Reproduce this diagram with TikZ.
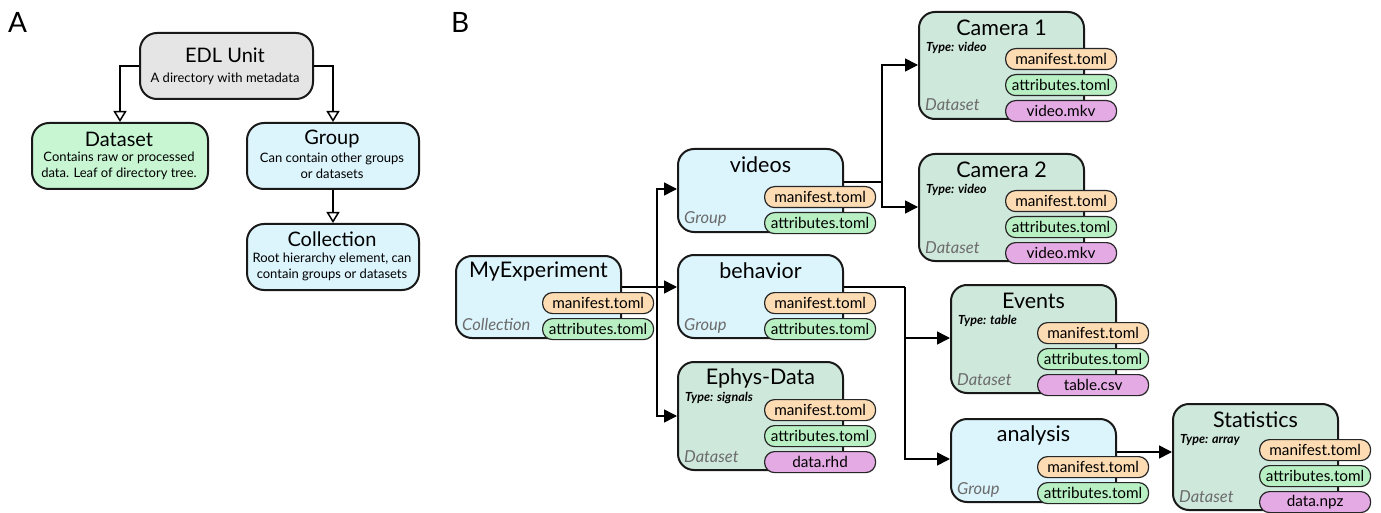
\documentclass[tikz,border=0pt]{standalone}
\usepackage{fontspec}
\setmainfont{Lato}
\usetikzlibrary{arrows.meta,calc}
\definecolor{grpC}{HTML}{DCF4FC}
\definecolor{dsC}{HTML}{CFE8DC}
\definecolor{dsA}{HTML}{C8F5D2}
\definecolor{edlC}{HTML}{E5E5E5}
\definecolor{manC}{HTML}{FDDCB4}
\definecolor{attC}{HTML}{B9F0C3}
\definecolor{datC}{HTML}{E4AAE4}
\tikzset{
 box/.style={draw=black!90, line width=2pt, rounded corners=16pt, minimum width=165pt, inner sep=0pt, anchor=north west},
 boxA/.style={draw=black!90, line width=2pt, rounded corners=17pt, inner sep=0pt, anchor=north west},
 pill/.style={draw=black!85, line width=1.2pt, rounded corners=10pt, minimum width=111pt, minimum height=21pt, inner sep=0pt, anchor=north west, font=\fontsize{15.3}{16}\selectfont},
 ttl/.style={font=\fontsize{21.5}{24}\selectfont, inner sep=0pt},
 ttlA/.style={font=\fontsize{20}{23}\selectfont, inner sep=0pt},
 typ/.style={font=\fontsize{12.5}{14}\selectfont\bfseries\itshape, inner sep=0pt, anchor=west},
 kind/.style={font=\fontsize{16.5}{18}\selectfont\itshape, text=black!58, inner sep=0pt, anchor=base west},
 desc/.style={font=\fontsize{13}{15.5}\selectfont, align=center, inner sep=0pt},
 lbl/.style={font=\fontsize{28}{30}\selectfont, anchor=base west, inner sep=0pt},
 arr/.style={line width=1.5pt, -{Triangle[length=13pt,width=13pt]}},
 ln/.style={line width=1.5pt},
 oarr/.style={line width=1.5pt, -{Triangle[open,length=11pt,width=13pt,fill=white]}},
}
\newcommand\ubox[7]{%
 \node[box, fill=#5, minimum height=#4pt] (#1) at (#2,#3) {};
 \node[ttl] (#1-t) at ([yshift=-17pt]#1.north) {#6};
 \node[kind] (#1-k) at ([xshift=7pt,yshift=9pt]#1.south west) {#7};}
\newcommand\utype[2]{%
 \node[typ] (#1-y) at ([xshift=8pt,yshift=-37pt]#1.north west) {#2};}
\newcommand\gpills[1]{%
 \node[pill, fill=manC] (#1-m) at ([xshift=-80pt,yshift=47pt]#1.south east) {manifest.toml};
 \node[pill, fill=attC] (#1-a) at ([xshift=-80pt,yshift=21pt]#1.south east) {attributes.toml};}
\newcommand\dpills[2]{%
 \node[pill, fill=manC] (#1-m) at ([xshift=-80pt,yshift=72pt]#1.south east) {manifest.toml};
 \node[pill, fill=attC] (#1-a) at ([xshift=-80pt,yshift=46pt]#1.south east) {attributes.toml};
 \node[pill, fill=datC] (#1-f) at ([xshift=-80pt,yshift=20pt]#1.south east) {#2};}
\begin{document}
\begin{tikzpicture}[x=1pt,y=-1pt]
\useasboundingbox[fill=white] (0,0) rectangle (1381,513);
% ---------- Panel A ----------
\node[lbl] (labA) at (8,33) {A};
\node[boxA, fill=edlC, minimum width=173pt, minimum height=66pt] (edl) at (139,32) {};
\node[ttlA] (edl-t) at (225,55) {EDL Unit};
\node[desc] (edl-d) at (225,79) {A directory with metadata};
\node[boxA, fill=dsA, minimum width=176pt, minimum height=66pt] (dset) at (31,122) {};
\node[ttlA] (dset-t) at (119,139) {Dataset};
\node[desc] (dset-d) at (119,166) {Contains raw or processed\\data. Leaf of directory tree.};
\node[boxA, fill=grpC, minimum width=172pt, minimum height=66pt] (grp) at (246,122) {};
\node[ttlA] (grp-t) at (332,139) {Group};
\node[desc] (grp-d) at (332,166) {Can contain other groups\\or datasets};
\node[boxA, fill=grpC, minimum width=172pt, minimum height=66pt] (coll) at (246,223) {};
\node[ttlA] (coll-t) at (332,239) {Collection};
\node[desc] (coll-d) at (332,267) {Root hierarchy element, can\\contain groups or datasets};
\draw[oarr] (edl.west) -| (dset.north);
\draw[oarr] (edl.east) -| (grp.north);
\draw[oarr] (grp.south) -- (coll.north);
% ---------- Panel B ----------
\node[lbl] (labB) at (451,33) {B};
\coordinate (jB) at (657,287);
\coordinate (yV) at (0,189);
\coordinate (yE) at (0,416);
\coordinate (jV) at (882,182);
\coordinate (yC1) at (0,65);
\coordinate (yC2) at (0,207);
\coordinate (jH) at (905,287);
\coordinate (yEv) at (0,338);
\coordinate (yAn) at (0,459);
\coordinate (yS) at (0,452);

\ubox{myexp}{455}{255}{82}{grpC}{MyExperiment}{Collection}
\ubox{videos}{677}{148}{83}{grpC}{videos}{Group}
\ubox{behav}{677}{254}{83}{grpC}{behavior}{Group}
\ubox{ephys}{677}{361}{108}{dsC}{Ephys-Data}{Dataset}
\ubox{cam1}{918}{11}{107}{dsC}{Camera 1}{Dataset}
\ubox{cam2}{918}{153}{107}{dsC}{Camera 2}{Dataset}
\ubox{events}{950}{284}{108}{dsC}{Events}{Dataset}
\ubox{anal}{950}{418}{83}{grpC}{analysis}{Group}
\ubox{stats}{1172}{403}{106}{dsC}{Statistics}{Dataset}
\utype{ephys}{Type: signals}
\utype{cam1}{Type: video}
\utype{cam2}{Type: video}
\utype{events}{Type: table}
\utype{stats}{Type: array}

\draw[arr] (myexp.east |- jB) -- (behav.west |- jB);
\draw[arr] (jB) |- (videos.west |- yV);
\draw[arr] (jB) |- (ephys.west |- yE);
\draw[ln] (videos.east |- jV) -- (jV);
\draw[arr] (jV) |- (cam1.west |- yC1);
\draw[arr] (jV) |- (cam2.west |- yC2);
\draw[ln] (behav.east |- jH) -- (jH);
\draw[arr] (jH) |- (events.west |- yEv);
\draw[arr] (jH) |- (anal.west |- yAn);
\draw[arr] (anal.east |- yS) -- (stats.west |- yS);

\gpills{myexp}
\gpills{videos}
\gpills{behav}
\dpills{ephys}{data.rhd}
\dpills{cam1}{video.mkv}
\dpills{cam2}{video.mkv}
\dpills{events}{table.csv}
\gpills{anal}
\dpills{stats}{data.npz}
\end{tikzpicture}
\end{document}
